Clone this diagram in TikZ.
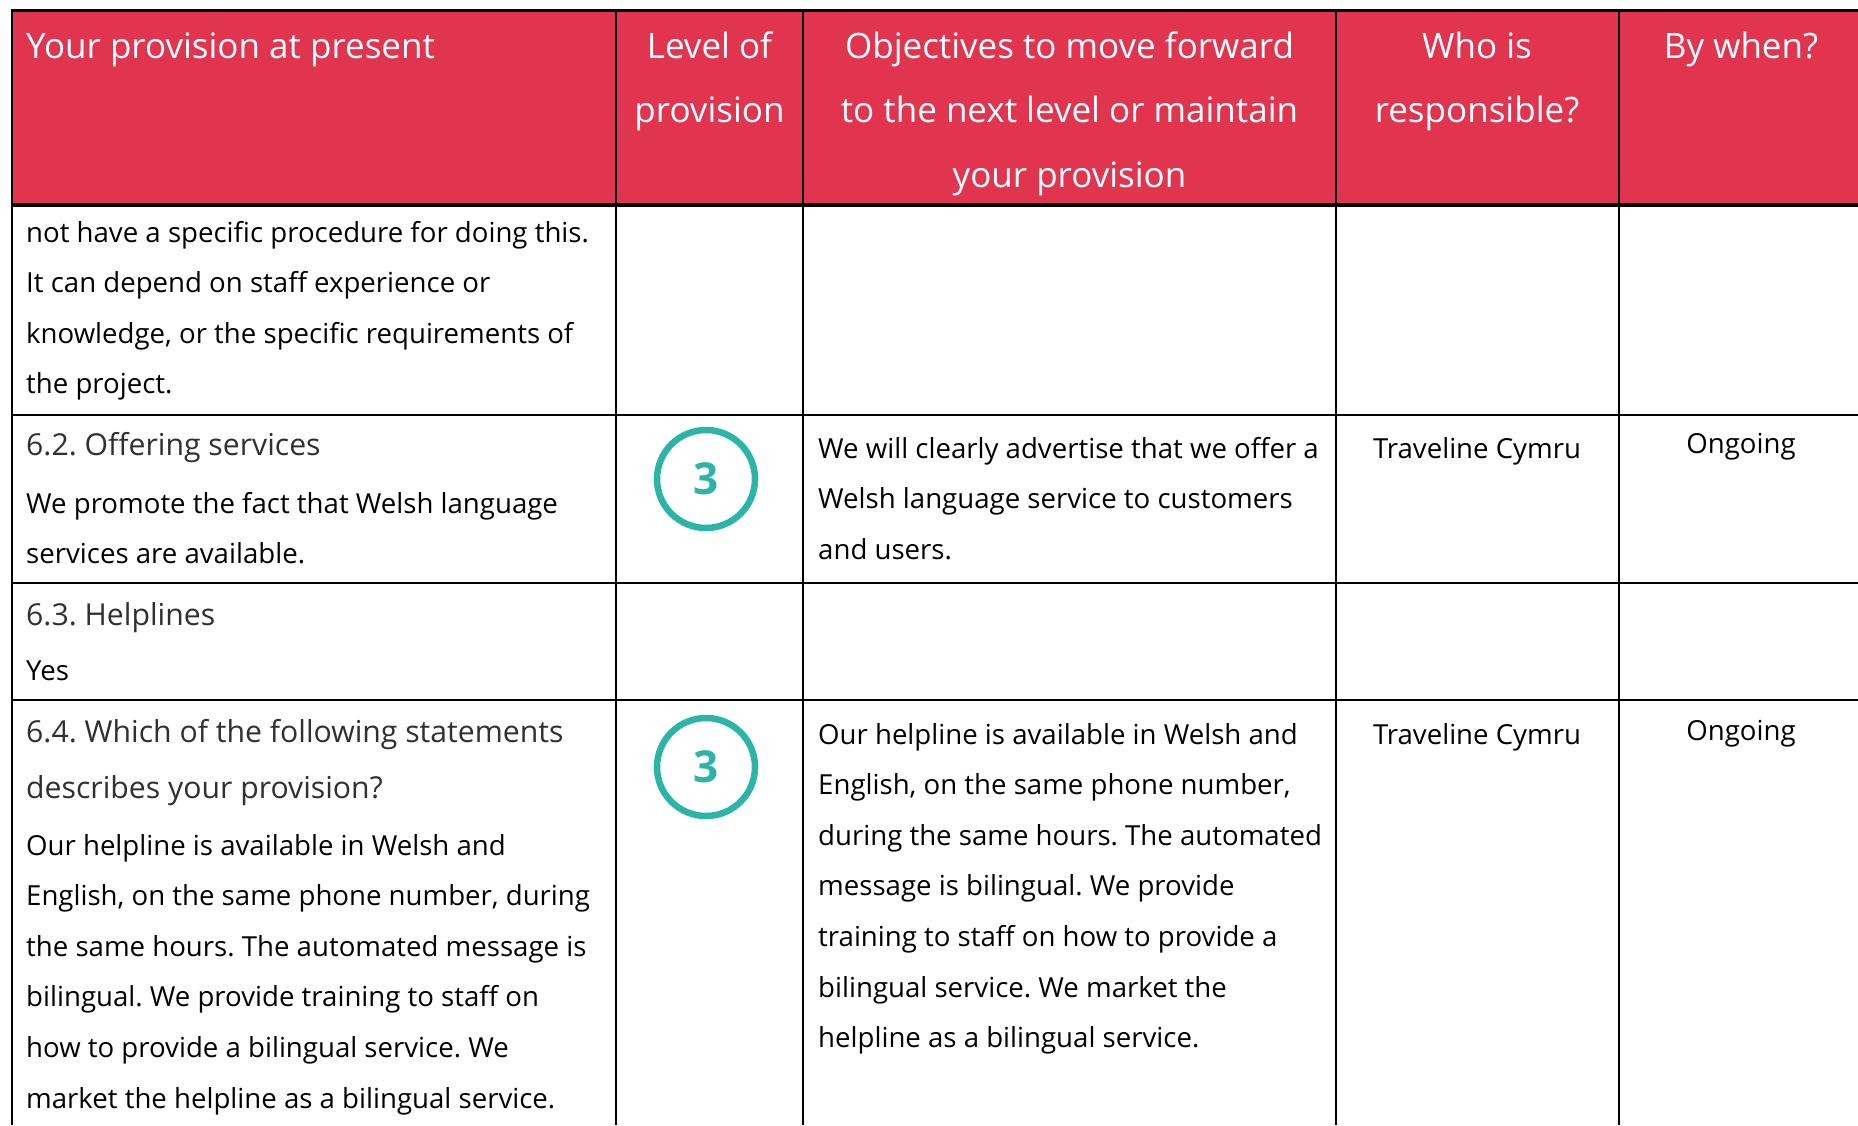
\documentclass[tikz,border=0pt]{standalone}
\usepackage{fontspec}
\setmainfont{Open Sans}
\usepackage{tikz}
\usepackage{xcolor}
\definecolor{headred}{RGB}{224,52,79}
\definecolor{levelteal}{RGB}{43,181,168}
\definecolor{titlegrey}{RGB}{48,48,48}
\frenchspacing
\newcommand{\hdsize}{\fontsize{35}{64.6}\selectfont}
\newcommand{\bdsize}{\fontsize{27.6}{50.6}\selectfont}
\newcommand{\ttlsize}{\fontsize{30.2}{56}\selectfont}
\newcommand{\numsize}{\fontsize{44}{44}\selectfont\bfseries}
\tikzset{
    grid-line/.style = {draw=black, line width=2.4pt},
    heavy-line/.style = {draw=black, line width=3.6pt},
    head-text/.style = {text=white, inner sep=0pt, anchor=base west, font=\hdsize},
    cell-text/.style = {text=black, inner sep=0pt, anchor=base west, font=\bdsize},
    cell-title/.style = {text=titlegrey, inner sep=0pt, anchor=base west, font=\ttlsize},
    level-badge/.style = {circle, draw=levelteal, line width=6.5pt, minimum size=98pt, inner sep=0pt, text=levelteal, font=\numsize},
}

\begin{document}
\begin{tikzpicture}[x=1pt, y=-1pt]
\useasboundingbox (0,0) rectangle (1858,1125);
\fill[headred] (12,10.5) rectangle (1858,205);
\foreach \y in {415, 583, 700} \draw[grid-line] (12,\y) -- (1858,\y);
\foreach \x in {12, 616, 803, 1336, 1619} \draw[grid-line] (\x,10.5) -- (\x,1125);
\draw[heavy-line] (10.8,10.5) -- (1858,10.5);
\draw[heavy-line] (10.8,205) -- (1858,205);

% header row
\node[head-text] (hd-present) at (26,58) {Your provision at present};
\node[head-text, anchor=base] (hd-level) at (709.5,58) {\begin{minipage}[t]{180pt}\centering
    Level of\\provision
\end{minipage}};
\node[head-text, anchor=base] (hd-objectives) at (1069.5,58) {\begin{minipage}[t]{520pt}\centering
    Objectives to move forward\\to the next level or maintain\\your provision
\end{minipage}};
\node[head-text, anchor=base] (hd-who) at (1477,58) {\begin{minipage}[t]{270pt}\centering
    Who is\\responsible?
\end{minipage}};
\node[head-text, anchor=base] (hd-when) at (1741,58) {By when?};

% carried-over row
\node[cell-text] (prev-text) at (26,242) {\begin{minipage}[t]{590pt}\raggedright
    not have a specific procedure for doing this.\\
    It can depend on staff experience or\\
    knowledge, or the specific requirements of\\
    the project.
\end{minipage}};

% 6.2
\node[cell-title] (offer-title) at (26,455) {6.2. Offering services};
\node[cell-text] (offer-text) at (26,513) {\begin{minipage}[t]{590pt}\raggedright
    We promote the fact that Welsh language\\
    services are available.
\end{minipage}};
\node[level-badge] (offer-level) at (706,479) {3};
\node[cell-text] (offer-goal) at (818,458) {\begin{minipage}[t]{510pt}\raggedright
    We will clearly advertise that we offer a\\
    Welsh language service to customers\\
    and users.
\end{minipage}};
\node[cell-text, anchor=base] (offer-who) at (1477,458) {Traveline Cymru};
\node[cell-text, anchor=base] (offer-when) at (1741,453) {Ongoing};

% 6.3
\node[cell-title] (help-title) at (26,625) {6.3. Helplines};
\node[cell-text] (help-text) at (26,680) {Yes};

% 6.4
\node[cell-title] (line-title) at (26,742) {\begin{minipage}[t]{590pt}\raggedright
    6.4. Which of the following statements\\
    describes your provision?
\end{minipage}};
\node[cell-text] (line-text) at (26,855) {\begin{minipage}[t]{590pt}\raggedright
    Our helpline is available in Welsh and\\
    English, on the same phone number, during\\
    the same hours. The automated message is\\
    bilingual. We provide training to staff on\\
    how to provide a bilingual service. We\\
    market the helpline as a bilingual service.
\end{minipage}};
\node[level-badge] (line-level) at (706,767) {3};
\node[cell-text] (line-goal) at (818,744) {\begin{minipage}[t]{510pt}\raggedright
    Our helpline is available in Welsh and\\
    English, on the same phone number,\\
    during the same hours. The automated\\
    message is bilingual. We provide\\
    training to staff on how to provide a\\
    bilingual service. We market the\\
    helpline as a bilingual service.
\end{minipage}};
\node[cell-text, anchor=base] (line-who) at (1477,744) {Traveline Cymru};
\node[cell-text, anchor=base] (line-when) at (1741,740) {Ongoing};
\end{tikzpicture}
\end{document}
